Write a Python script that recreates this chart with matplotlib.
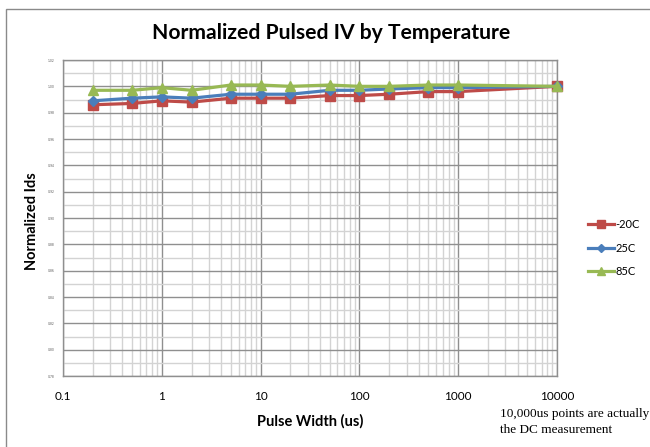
import matplotlib
matplotlib.use("Agg")
import matplotlib.pyplot as plt
from matplotlib.ticker import FixedLocator, NullFormatter, LogLocator
from matplotlib.patches import Rectangle
from matplotlib.lines import Line2D

pulse_width = [0.2, 0.5, 1, 2, 5, 10, 20, 50, 100, 200, 500, 1000, 10000]
ids_m20 = [0.986, 0.987, 0.989, 0.988, 0.991, 0.991, 0.991, 0.993, 0.993, 0.994, 0.996, 0.996, 1.000]
ids_25 = [0.989, 0.991, 0.992, 0.991, 0.994, 0.994, 0.994, 0.997, 0.997, 0.998, 0.999, 0.999, 1.000]
ids_85 = [0.997, 0.997, 0.999, 0.997, 1.001, 1.001, 1.000, 1.001, 1.000, 1.000, 1.001, 1.001, 1.000]
series_names = ["-20C", "25C", "85C"]
y_ticks = [1.02, 1.00, 0.98, 0.96, 0.94, 0.92, 0.90, 0.88, 0.86, 0.84, 0.82, 0.80, 0.78]
x_ticks = [0.1, 1, 10, 100, 1000, 10000]
x_tick_labels = ["0.1", "1", "10", "100", "1000", "10000"]

W, H = 650, 447
fig = plt.figure(figsize=(W / 100, H / 100), dpi=100)
fig.patch.set_facecolor("white")

# outer chart frame (clipped at right/bottom)
fig.patches.append(Rectangle((6 / W, -0.1), 1.2, 1 - 9 / H + 0.1, transform=fig.transFigure,
                             fill=False, edgecolor="#8a8a8a", linewidth=1.0))

ax = fig.add_axes([63 / W, 1 - 376 / H, (557 - 63) / W, (376 - 60) / H])
ax.set_xscale("log")
ax.set_xlim(0.1, 10000)
ax.set_ylim(min(y_ticks), max(y_ticks))

colors = ["#BE4B48", "#4A7EBB", "#98B954"]
markers = ["s", "D", "^"]
msizes = [6.5, 5, 7]
for vals, c, m, ms, name in zip([ids_m20, ids_25, ids_85], colors, markers, msizes, series_names):
    ax.plot(pulse_width, vals, color=c, marker=m, markersize=ms, linewidth=2.3,
            label=name, zorder=3, clip_on=False)

ax.xaxis.set_major_locator(FixedLocator(x_ticks))
ax.set_xticklabels(x_tick_labels, fontsize=8.5, family="Lato")
ax.xaxis.set_minor_locator(LogLocator(base=10, subs=range(2, 10), numticks=20))
ax.xaxis.set_minor_formatter(NullFormatter())
ax.yaxis.set_major_locator(FixedLocator(y_ticks))
ax.yaxis.set_minor_locator(FixedLocator([v + 0.01 for v in y_ticks[1:]]))
ax.set_yticklabels(["%.2f" % v for v in y_ticks], fontsize=2.2, color="#555555")
ax.tick_params(axis="both", which="both", length=0)
ax.tick_params(axis="x", pad=11)
ax.tick_params(axis="y", pad=6)

ax.grid(True, which="major", color="#8f8f8f", linewidth=1.0, zorder=1)
ax.grid(True, which="minor", color="#d3d3d3", linewidth=1.0, zorder=0)
ax.set_axisbelow(True)
for s in ax.spines.values():
    s.set_color("#8f8f8f")
    s.set_linewidth(1.0)

fig.text(331 / W, 1 - 33 / H, "Normalized Pulsed IV by Temperature", ha="center", va="center",
         fontsize=15.2, fontweight="bold", family="Lato")
fig.text(310 / W, 1 - 421 / H, "Pulse Width (us)", ha="center", va="center",
         fontsize=10.5, fontweight="bold", family="Lato")
fig.text(32 / W, 1 - 221 / H, "Normalized Ids", ha="center", va="center", rotation=90,
         fontsize=10.5, fontweight="bold", family="Lato")
fig.text(500 / W, 1 - 414 / H, "10,000us points are actually", ha="left", va="center",
         fontsize=9.5, family="Liberation Serif")
fig.text(500 / W, 1 - 430 / H, "the DC measurement", ha="left", va="center",
         fontsize=9.5, family="Liberation Serif")

handles = [Line2D([0], [0], color=c, marker=m, markersize=ms * 0.85, linewidth=2.3)
           for c, m, ms in zip(colors, markers, msizes)]
fig.legend(handles, series_names, loc="center left", bbox_to_anchor=(586 / W, 1 - 248 / H),
           frameon=False, prop={"family": "Lato", "size": 8},
           handlelength=2.3, handletextpad=0.15, labelspacing=1.1, borderpad=0.2,
           borderaxespad=0)

fig.savefig("out.png", dpi=100, facecolor="white")
